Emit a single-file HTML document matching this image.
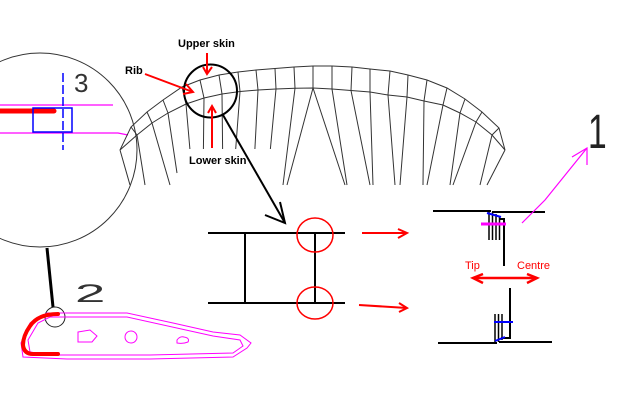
<!DOCTYPE html>
<html><head><meta charset="utf-8"><style>
html,body{margin:0;padding:0;background:#fff;}
svg{display:block;}
</style></head><body>
<svg width="640" height="400" viewBox="0 0 640 400" xmlns="http://www.w3.org/2000/svg">
<rect width="640" height="400" fill="#fff"/>

<!-- Big circle detail 3 -->
<circle cx="40" cy="150" r="97" fill="none" stroke="#333" stroke-width="1"/>
<line x1="0" y1="105" x2="113" y2="105" stroke="#f0f" stroke-width="1.2"/>
<polyline points="0,133 118,133 128,135" fill="none" stroke="#f0f" stroke-width="1.2"/>
<line x1="0" y1="111" x2="54" y2="111" stroke="#f00" stroke-width="5" stroke-linecap="round"/>
<rect x="33" y="108" width="39" height="24" fill="none" stroke="#00f" stroke-width="1.5"/>
<line x1="63" y1="73" x2="63" y2="150" stroke="#00f" stroke-width="1.5" stroke-dasharray="9,3"/>
<text x="74" y="92" font-family="Liberation Sans, sans-serif" font-size="26" fill="#333">3</text>

<!-- Wing -->
<g fill="none" stroke="#333" stroke-width="1">
<polyline points="120,150 131,127 147,112 163,100 182,87 200,80 219,75 238,72 256,70 275,68.5 294,67 313,66 332,66 352,67 370,69 390,71 408,75 427,80 447,88 465,99 482,112 499,128 505,150"/>
<polyline points="120,150 137,135 152,123 168,113 186,104 204,98 222,94 240,91.5 258,90 276,89 295,88.3 313,88 332,89 351,90.5 370,92 388,95 407,97 424,101 443,105 460,113 476,122 492,135 505,150"/>
<path d="M131,127L137,135 M147,112L152,123 M163,100L168,113 M182,87L186,104 M200,80L204,98 M219,75L222,94 M238,72L240,91.5 M256,70L258,90 M275,68.5L276,89 M294,67L295,88.3 M313,66L313,88 M332,66L332,89 M352,67L351,90.5 M370,69L370,92 M390,71L388,95 M408,75L407,97 M427,80L424,101 M447,88L443,105 M465,99L460,113 M482,112L476,122 M499,128L492,135"/>
<path d="M120,150L130,185 M137,135L145,185 M152,123L170,185 M168,113L177,173 M186,104L193,185 M204,98L203,185 M222,94L223,185 M240,91.5L233,185 M258,90L253,185 M276,89L267,185 M295,88.3L283,185 M313,88L287,185 M313,88L345,185 M332,89L347,185 M351,90.5L370,185 M370,92L373,185 M388,95L395,185 M407,97L400,185 M424,101L423,185 M443,105L427,185 M460,113L450,185 M476,122L453,185 M492,135L480,185 M505,150L487,185"/>
</g>
<rect x="186" y="149" width="90" height="37" fill="#fff"/>

<!-- Lens circle and connector -->
<circle cx="210.5" cy="91" r="26.5" fill="none" stroke="#000" stroke-width="2"/>
<line x1="223" y1="115" x2="285" y2="223" stroke="#000" stroke-width="2"/>
<polyline points="265,215 285,223 280,202" fill="none" stroke="#000" stroke-width="2"/>

<!-- Red label arrows -->
<g stroke="#f00" stroke-width="2" fill="none">
<line x1="207" y1="53" x2="207" y2="74"/>
<polyline points="203,67 207,74 212,67"/>
<line x1="145" y1="74" x2="193" y2="92"/>
<polyline points="186,84 193,92 183,94"/>
<line x1="212" y1="148" x2="212" y2="106"/>
<polyline points="208,113 212,106 216,113"/>
</g>
<g font-family="Liberation Sans, sans-serif" font-size="11" font-weight="bold" fill="#000">
<text x="178" y="47">Upper skin</text>
<text x="125" y="74">Rib</text>
<text x="189" y="164">Lower skin</text>
</g>

<!-- H diagram -->
<g stroke="#000" stroke-width="2">
<line x1="208" y1="233" x2="345" y2="233"/>
<line x1="208" y1="303" x2="345" y2="303"/>
<line x1="245" y1="233" x2="245" y2="303"/>
<line x1="315" y1="233" x2="315" y2="303"/>
</g>
<g stroke="#f00" stroke-width="1.5" fill="none">
<ellipse cx="315" cy="235" rx="18" ry="17"/>
<ellipse cx="315" cy="303" rx="18" ry="16"/>
</g>
<g stroke="#f00" stroke-width="2" fill="none">
<line x1="362" y1="233" x2="407" y2="233"/>
<polyline points="398,229 407,233 398,238"/>
<line x1="359" y1="305" x2="407" y2="308"/>
<polyline points="399,303 407,308 399,312"/>
</g>

<!-- T diagram -->
<g stroke="#000" stroke-width="2" fill="none">
<line x1="433" y1="211" x2="491" y2="211"/>
<line x1="492" y1="212" x2="545" y2="212"/>
<polyline points="499,219 504,219 504,266"/>
<line x1="438" y1="343" x2="497" y2="343"/>
<line x1="499" y1="342" x2="552" y2="342"/>
<polyline points="510,288 510,338 501,338"/>
</g>
<g stroke="#000" stroke-width="1.5">
<line x1="489" y1="212" x2="489" y2="240"/>
<line x1="492.5" y1="212" x2="492.5" y2="240"/>
<line x1="496" y1="214" x2="496" y2="240"/>
<line x1="499.5" y1="217" x2="499.5" y2="240"/>
<line x1="495" y1="314" x2="495" y2="342"/>
<line x1="498.5" y1="314" x2="498.5" y2="342"/>
<line x1="502" y1="314" x2="502" y2="340"/>
</g>
<line x1="487" y1="213" x2="501" y2="217" stroke="#00f" stroke-width="2"/>
<line x1="481" y1="224" x2="506" y2="224" stroke="#f0f" stroke-width="3"/>
<line x1="494" y1="322" x2="513" y2="322" stroke="#00f" stroke-width="2"/>
<line x1="495" y1="341" x2="505" y2="337" stroke="#00f" stroke-width="2"/>
<g stroke="#f00" stroke-width="2.5" fill="none">
<line x1="473" y1="278" x2="537" y2="278"/>
<polyline points="483,274 473,278 483,283"/>
<polyline points="527,274 537,278 527,283"/>
</g>
<g font-family="Liberation Sans, sans-serif" font-size="11" fill="#f00">
<text x="465" y="269">Tip</text>
<text x="517" y="269">Centre</text>
</g>

<!-- Pink arrow and 1 -->
<g stroke="#f0f" stroke-width="1.2" fill="none">
<polyline points="522,223 545,200 587,148"/>
<polyline points="572,157 587,148 587,165"/>
</g>
<text transform="translate(588,148) scale(0.7,1)" font-family="Liberation Sans, sans-serif" font-size="48" fill="#222">1</text>

<!-- Airfoil 2 -->
<line x1="47" y1="248" x2="53" y2="307" stroke="#000" stroke-width="3"/>
<circle cx="55" cy="317" r="10" fill="none" stroke="#222" stroke-width="1"/>
<text transform="translate(75,302) scale(2.1,0.95)" font-family="Liberation Sans, sans-serif" font-size="26" fill="#333">2</text>
<g stroke="#f0f" stroke-width="1" fill="none">
<path d="M47,313 L127,313 L173,323 L213,332 L240,335 L251,343 L247,348 L233,357 L150,359 L67,359 L23,357 L21,343 L30,323 Z"/>
<path d="M50,317 L127,317 L213,336 L240,340 L243,346 L233,353 L150,355 L50,355 L30,352 L28,340 L38,323 Z"/>
<path d="M78,332 L90,330 L97,336 L92,342 L78,342 Z"/>
<circle cx="131" cy="337" r="6"/>
<path d="M177,340 Q180,336 184,337 Q190,338 188,342 Q183,344 177,343 Z"/>
</g>
<path d="M58,314 Q38,314 30,326 Q23,336 23,345 Q24,354 33,354 L58,354" fill="none" stroke="#f00" stroke-width="4" stroke-linecap="round"/>
</svg>
</body></html>
